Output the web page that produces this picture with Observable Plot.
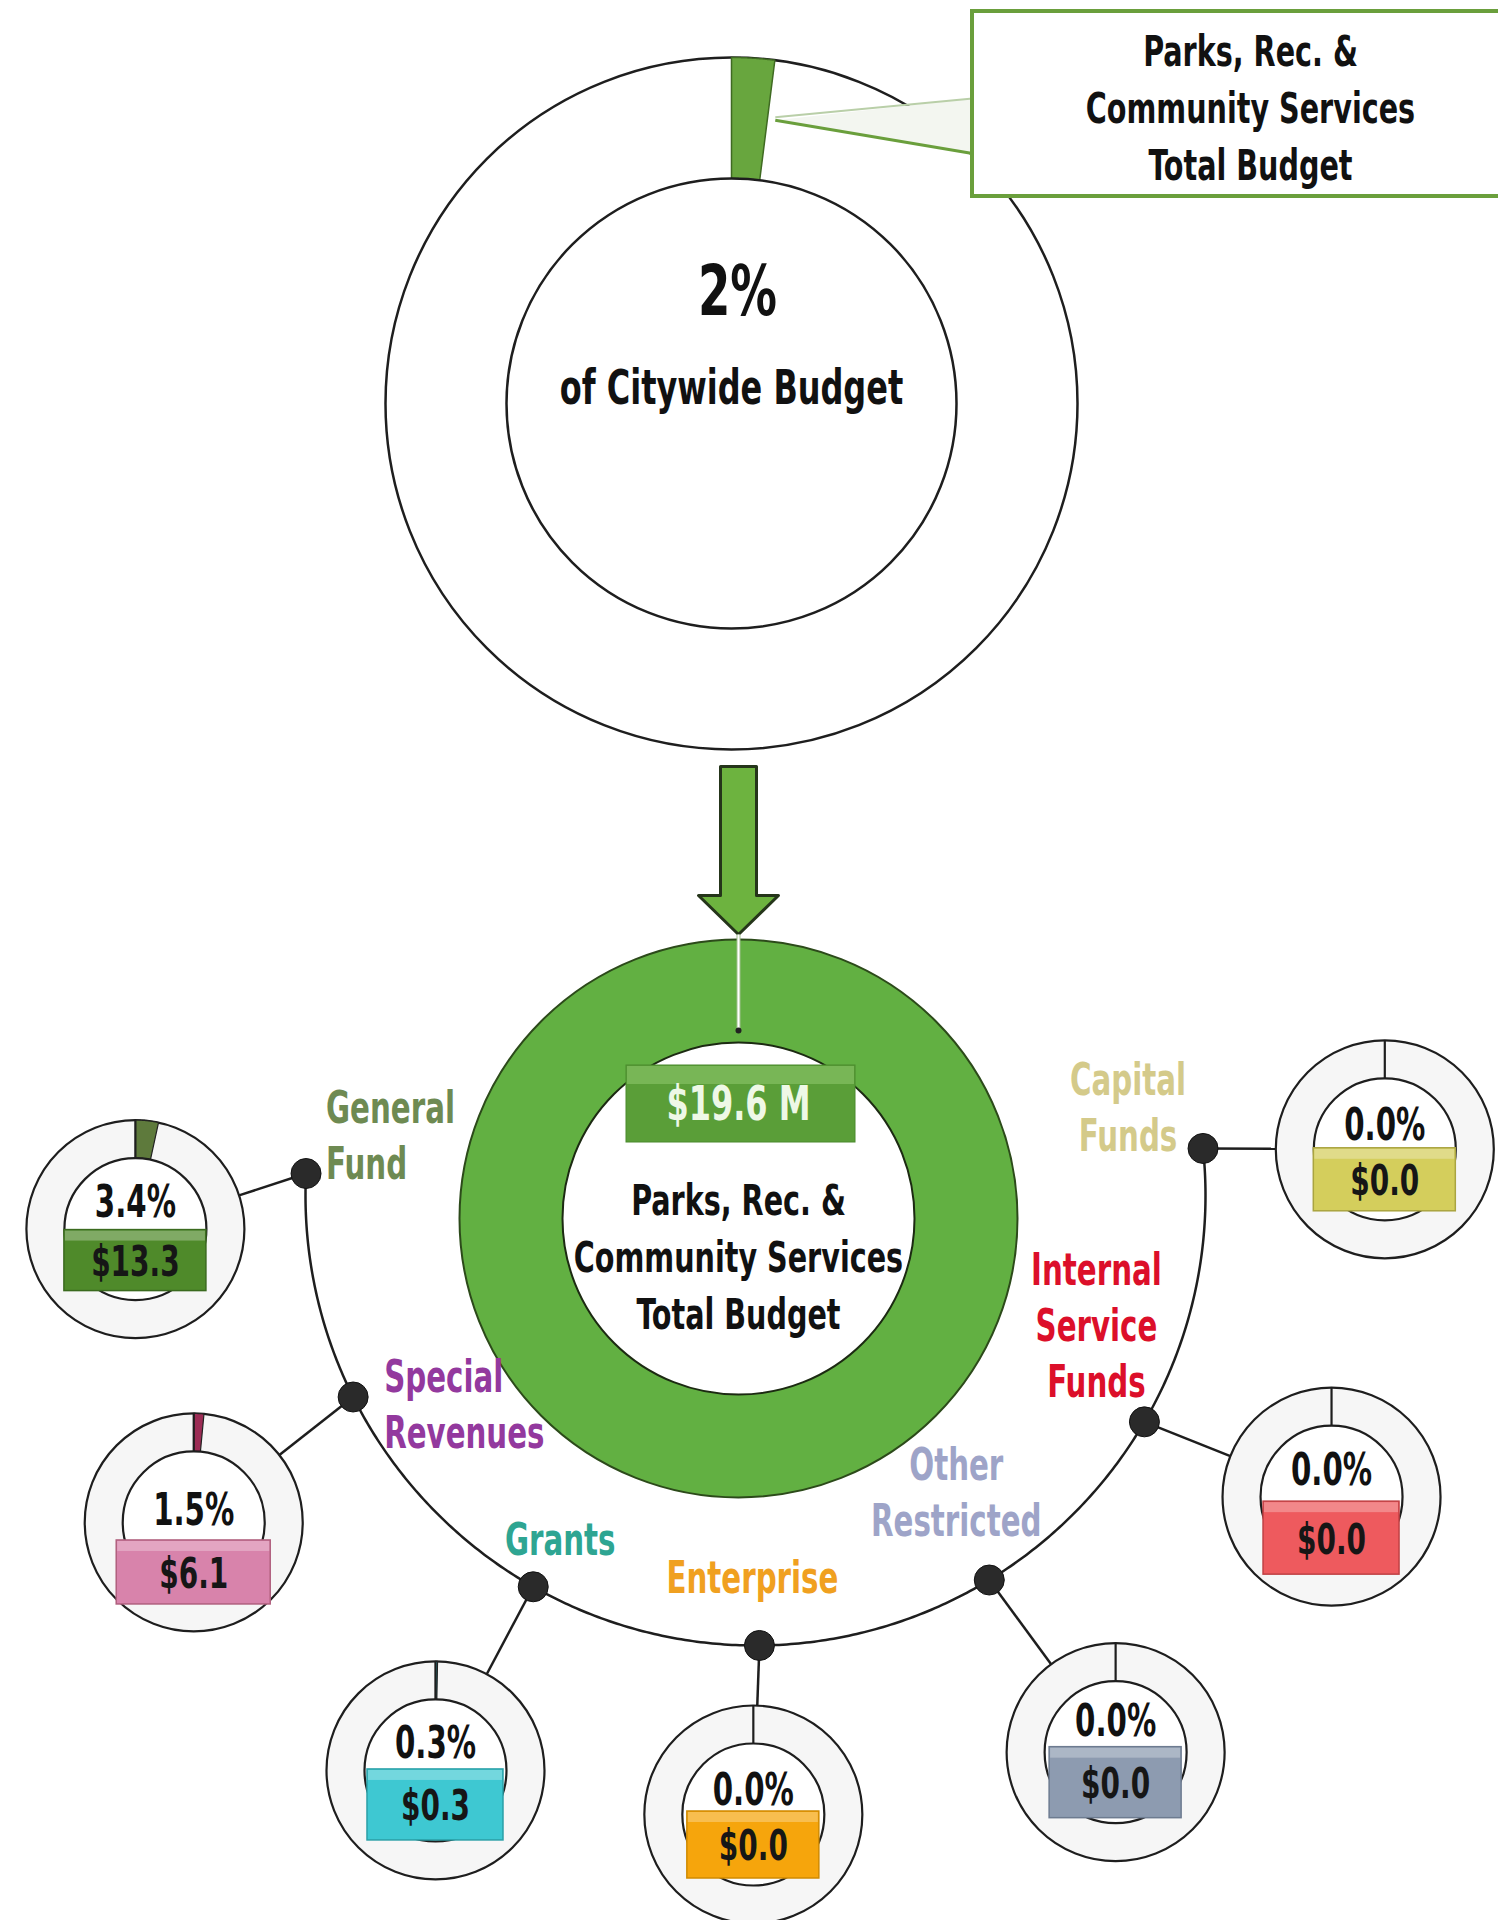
<!DOCTYPE html>
<html><head><meta charset="utf-8">
<script src="https://cdn.jsdelivr.net/npm/d3@7"></script>
<script src="https://cdn.jsdelivr.net/npm/@observablehq/plot@0.6"></script>
<style>
html,body{margin:0;padding:0;background:#fff;}
#chart{width:1498px;height:1920px;overflow:hidden;}
</style></head><body><div id="chart"></div>
<script>
// ---------------- data ----------------
const citywideSharePct = 2;
const citywideLabel = "of Citywide Budget";
const totalBudgetM = 19.6;
const deptTitleLines = ["Parks, Rec. &", "Community Services", "Total Budget"];
const fundNames = ["General Fund","Special Revenues","Grants","Enterprise","Other Restricted","Internal Service Funds","Capital Funds"];
const fundLabelLines = [["General","Fund"],["Special","Revenues"],["Grants"],["Enterprise"],["Other","Restricted"],["Internal","Service","Funds"],["Capital","Funds"]];
const fundSharePct = [3.4, 1.5, 0.3, 0.0, 0.0, 0.0, 0.0];
const fundAmountM = [13.3, 6.1, 0.3, 0.0, 0.0, 0.0, 0.0];

// ---------------- styles ----------------
const labelColors = ["#6e8a52","#93399e","#2ea592","#f0a020","#9ea4c8","#dc0f2a","#d4ca8a"];
const boxColors   = ["#4f8a2a","#d883ab","#3ec8d2","#f6a50c","#8d9bb0","#ee5a5e","#d4ce5c"];
const boxStroke   = ["#3a6a1e","#b0607e","#2aa0a8","#d08a00","#6d7b90","#c04044","#aaa440"];
const sliceColors = ["#5e7a3c","#9c2c55","#2aa0a8","#d08a00","#6d7b90","#c04044","#aaa440"];
const GREEN = "#62b042", DARK = "#1e1e1e";
const FONT = "'DejaVu Sans Condensed','DejaVu Sans',sans-serif";
const SQUEEZE = 0.74; // horizontal squeeze to imitate a tall narrow display face

// ---------------- layout ----------------
const W = 1498, H = 1920, deg = Math.PI / 180;
const ring1 = {x: 731, y: 403, R: 346, r: 225};
const ring2 = {x: 738, y: 1218, R: 279, r: 176};
const arcC = {x: 755, y: 1195, r: 450};
const smallR = 109, smallr = 71;
// dot angle on the arc, circle placement (polar from arc centre), label offset, inner box [pctDy, boxTop, boxBottom, halfWidth]
const fundLayout = [
  {dotDeg: 182.8, circDeg: 176.9, circDist: 621, lab: [20, -65, "start"],  inner: [-26, 1, 62, 71]},
  {dotDeg: 153.4, circDeg: 149.8, circDist: 650, lab: [31, -19, "start"],  inner: [-12, 18, 82, 77]},
  {dotDeg: 119.6, circDeg: 119.1, circDist: 658, lab: [27, -46, "middle"], inner: [-27, -1, 70, 68]},
  {dotDeg: 89.5,  circDeg: 90.2,  circDist: 619, lab: [-7, -67, "middle"], inner: [-24, -3, 64, 66]},
  {dotDeg: 58.7,  circDeg: 57.1,  circDist: 663, lab: [-33, -114, "middle"], inner: [-30, -5, 66, 66]},
  {dotDeg: 30.2,  circDeg: 27.6,  circDist: 650, lab: [-48, -151, "middle"], inner: [-26, 5, 78, 68]},
  {dotDeg: -6.0,  circDeg: -4.2,  circDist: 631, lab: [-75, -68, "middle"], inner: [-23, -1, 62, 71]}
];
const polar = (c, a, d) => ({x: c.x + d * Math.cos(a * deg), y: c.y + d * Math.sin(a * deg)});
// clock-style slice (0 = top, clockwise)
function ringSlice(id, cx, cy, R, r, frac, n = 48) {
  const a1 = frac * 2 * Math.PI, pts = [];
  for (let i = 0; i <= n; i++) { const a = a1 * i / n; pts.push({id, x: cx + R * Math.sin(a), y: cy - R * Math.cos(a)}); }
  for (let i = n; i >= 0; i--) { const a = a1 * i / n; pts.push({id, x: cx + r * Math.sin(a), y: cy - r * Math.cos(a)}); }
  pts.push({...pts[0]});
  return pts;
}
const fmt1 = d3.format(".1f");

const funds = fundNames.map((name, i) => {
  const L = fundLayout[i];
  const dot = polar(arcC, L.dotDeg, arcC.r);
  const c = polar(arcC, L.circDeg, L.circDist);
  const dx = dot.x - c.x, dy = dot.y - c.y, d = Math.hypot(dx, dy);
  const [pDy, bTop, bBot, hw] = L.inner;
  return {
    i, name, pct: fundSharePct[i], amt: fundAmountM[i],
    dx: dot.x, dy: dot.y, cx: c.x, cy: c.y,
    ex: c.x + dx / d * smallR, ey: c.y + dy / d * smallR,
    py: c.y + pDy, by1: c.y + bTop, by2: c.y + bBot, bx1: c.x - hw, bx2: c.x + hw,
    ty: c.y + (bTop + bBot) / 2 + 2,
    color: labelColors[i], box: boxColors[i], boxStroke: boxStroke[i], slice: sliceColors[i]
  };
});

// arc connecting the funds
const a0 = fundLayout[fundLayout.length - 1].dotDeg, a1 = fundLayout[0].dotDeg;
const arcPts = d3.range(a0, a1 + 0.01, 0.5).map(a => polar(arcC, a, arcC.r));

// label rows
const labelRows = [];
funds.forEach((f, i) => {
  const [ldx, ldy, anchor] = fundLayout[i].lab;
  fundLabelLines[i].forEach((t, k) => labelRows.push({x: f.dx + ldx, y: f.dy + ldy + k * 56, text: t, color: f.color, anchor}));
});
const labelStart = labelRows.filter(d => d.anchor === "start");
const labelMid = labelRows.filter(d => d.anchor === "middle");

// slices
const topSlice = ringSlice("top", ring1.x, ring1.y, ring1.R, ring1.r, citywideSharePct / 100);
const fundSlices = funds.filter(f => f.pct > 0).flatMap(f => ringSlice(f.name, f.cx, f.cy, smallR, smallr, f.pct / 100).map(p => ({...p, fill: f.slice})));

// callout pointer
const pa = citywideSharePct / 100 * 2 * Math.PI, pm = (ring1.R + ring1.r) / 2;
const apex = {x: ring1.x + pm * Math.sin(pa) + 8, y: ring1.y - pm * Math.cos(pa)};
const box = {x1: 972, x2: 1530, y1: 11, y2: 196};
const pointer = [apex, {x: box.x1, y: 98}, {x: box.x1, y: 153}, apex];

// arrow
const ar = {x: 738, y0: 766, y1: 895, tip: 934, half: 18, head: 40};
const arrow = [
  {x: ar.x - ar.half, y: ar.y0}, {x: ar.x + ar.half, y: ar.y0}, {x: ar.x + ar.half, y: ar.y1},
  {x: ar.x + ar.head, y: ar.y1}, {x: ar.x, y: ar.tip}, {x: ar.x - ar.head, y: ar.y1},
  {x: ar.x - ar.half, y: ar.y1}, {x: ar.x - ar.half, y: ar.y0}
];

const txt = (data, o) => Plot.text(data, {fontFamily: FONT, fontWeight: "bold", lineAnchor: "middle", ...o});

const chart = Plot.plot({
  width: W, height: H, margin: 0,
  x: {domain: [0, W], range: [0, W], axis: null},
  y: {domain: [0, H], range: [0, H], axis: null},
  style: {background: "#fff", fontFamily: FONT},
  marks: [
    // ---- top citywide ring ----
    Plot.dot([ring1], {x: "x", y: "y", r: ring1.R, fill: "#fff", stroke: DARK, strokeWidth: 2.5}),
    Plot.line(pointer, {x: "x", y: "y", fill: "#f3f6f0", stroke: "none"}),
    Plot.link([{x1: apex.x, y1: apex.y - 3, x2: box.x1, y2: 98}], {x1: "x1", y1: "y1", x2: "x2", y2: "y2", stroke: "#b9cfa8", strokeWidth: 2}),
    Plot.link([{x1: apex.x, y1: apex.y, x2: box.x1, y2: 153}], {x1: "x1", y1: "y1", x2: "x2", y2: "y2", stroke: "#6a9f3c", strokeWidth: 3}),
    Plot.line(topSlice, {x: "x", y: "y", fill: "#68a63e", stroke: "#3f6a22", strokeWidth: 1.5}),
    Plot.dot([ring1], {x: "x", y: "y", r: ring1.r, fill: "#fff", stroke: DARK, strokeWidth: 2.5}),
    txt([{x: ring1.x + 6, y: 292, t: citywideSharePct + "%"}], {x: "x", y: "y", text: "t", fontSize: 70, fill: "#111"}),
    txt([{x: ring1.x, y: 388, t: citywideLabel}], {x: "x", y: "y", text: "t", fontSize: 48, fill: "#111"}),
    // callout box
    Plot.rect([box], {x1: "x1", x2: "x2", y1: "y1", y2: "y2", fill: "#fff", stroke: "#6a9f3c", strokeWidth: 4}),
    txt(deptTitleLines.map((t, k) => ({x: 1250, y: 52 + k * 57, t})), {x: "x", y: "y", text: "t", fontSize: 43, fill: "#111"}),

    // ---- arrow ----
    Plot.line(arrow, {x: "x", y: "y", fill: "#6db33f", stroke: "#25351a", strokeWidth: 3}),

    // ---- department ring ----
    Plot.dot([ring2], {x: "x", y: "y", r: ring2.R, fill: GREEN, stroke: "#2c4a1a", strokeWidth: 2}),
    Plot.dot([ring2], {x: "x", y: "y", r: ring2.r, fill: "#fff", stroke: "#1c2a12", strokeWidth: 2}),
    Plot.link([{x1: ring2.x, y1: ar.tip, x2: ring2.x, y2: ring2.y - ring2.r - 12}], {x1: "x1", y1: "y1", x2: "x2", y2: "y2", stroke: "#9fbf8c", strokeWidth: 4}),
    Plot.link([{x1: ring2.x, y1: ar.tip, x2: ring2.x, y2: ring2.y - ring2.r - 12}], {x1: "x1", y1: "y1", x2: "x2", y2: "y2", stroke: "#ffffff", strokeWidth: 2}),
    Plot.dot([{x: ring2.x, y: ring2.y - ring2.r - 12}], {x: "x", y: "y", r: 3, fill: "#222"}),
    Plot.rect([{x1: 626, x2: 855, y1: 1065, y2: 1142}], {x1: "x1", x2: "x2", y1: "y1", y2: "y2", fill: "#5a9e38", stroke: "#4a8a2c", strokeWidth: 1}),
    Plot.rect([{x1: 627, x2: 854, y1: 1066, y2: 1084}], {x1: "x1", x2: "x2", y1: "y1", y2: "y2", fill: "#8cc66a", fillOpacity: 0.6}),
    txt([{x: ring2.x, y: 1104, t: "$" + fmt1(totalBudgetM) + " M"}], {x: "x", y: "y", text: "t", fontSize: 48, fill: "#eef8e6"}),
    txt(deptTitleLines.map((t, k) => ({x: ring2.x, y: 1201 + k * 57, t})), {x: "x", y: "y", text: "t", fontSize: 43, fill: "#111"}),

    // ---- fund arc + connectors ----
    Plot.line(arcPts, {x: "x", y: "y", stroke: DARK, strokeWidth: 2.5}),
    Plot.link(funds, {x1: "dx", y1: "dy", x2: "ex", y2: "ey", stroke: DARK, strokeWidth: 2.5}),

    // ---- small fund rings ----
    Plot.dot(funds, {x: "cx", y: "cy", r: smallR, fill: "#f6f6f6", stroke: DARK, strokeWidth: 2.2}),
    Plot.line(fundSlices, {x: "x", y: "y", z: "id", fill: "fill", stroke: "#222", strokeWidth: 1.2}),
    Plot.link(funds, {x1: "cx", y1: d => d.cy - smallR, x2: "cx", y2: d => d.cy - smallr, stroke: DARK, strokeWidth: 2.2}),
    Plot.dot(funds, {x: "cx", y: "cy", r: smallr, fill: "#fff", stroke: DARK, strokeWidth: 2.2}),
    Plot.rect(funds, {x1: "bx1", x2: "bx2", y1: "by1", y2: "by2", fill: "box", stroke: "boxStroke", strokeWidth: 1.5}),
    Plot.rect(funds, {x1: d => d.bx1 + 1, x2: d => d.bx2 - 1, y1: d => d.by1 + 1, y2: d => d.by1 + 11, fill: "#fff", fillOpacity: 0.28}),
    txt(funds, {x: "cx", y: "py", text: d => fmt1(d.pct) + "%", fontSize: 44, fill: "#111"}),
    txt(funds, {x: "cx", y: "ty", text: d => "$" + fmt1(d.amt), fontSize: 42, fill: "#161616"}),

    // ---- dots on arc ----
    Plot.dot(funds, {x: "dx", y: "dy", r: 15, fill: "#2a2a2a", stroke: "#111", strokeWidth: 1}),

    // ---- fund labels ----
    txt(labelStart, {x: "x", y: "y", text: "text", fill: "color", textAnchor: "start", fontSize: 44}),
    txt(labelMid, {x: "x", y: "y", text: "text", fill: "color", textAnchor: "middle", fontSize: 44})
  ]
});
document.getElementById("chart").appendChild(chart);
// squeeze every text horizontally (tall, narrow display face) without moving it
chart.querySelectorAll("text").forEach(t => {
  const w = t.getComputedTextLength();
  if (w > 0) {
    t.setAttribute("textLength", (w * SQUEEZE).toFixed(1));
    t.setAttribute("lengthAdjust", "spacingAndGlyphs");
  }
});
</script>
</body></html>
